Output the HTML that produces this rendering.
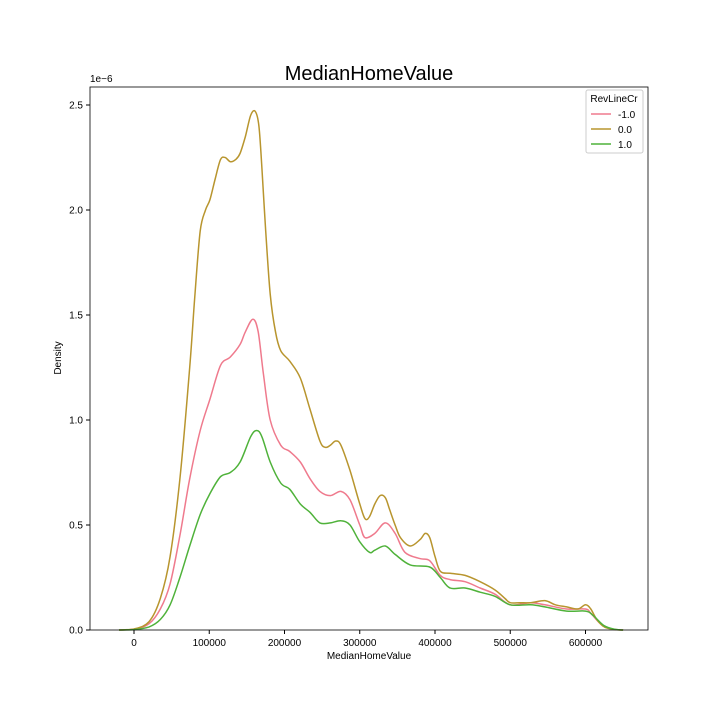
<!DOCTYPE html>
<html><head><meta charset="utf-8"><style>
body{margin:0;background:#fff;}
svg{display:block;font-family:"Liberation Sans","DejaVu Sans",sans-serif;}
</style></head><body>
<svg id="chart" width="720" height="720">
<rect width="720" height="720" fill="#fff"/>
<text x="369" y="80" font-size="20" text-anchor="middle">MedianHomeValue</text>
<text x="90" y="82" font-size="10">1e−6</text>
<text transform="translate(61,358) rotate(-90)" font-size="10" text-anchor="middle">Density</text>
<text x="369" y="659" font-size="10" text-anchor="middle">MedianHomeValue</text>
<g id="series"></g>
<g id="axes"></g>
<rect x="90" y="87" width="558" height="543" fill="none" stroke="#000" stroke-width="0.8"/>
<g>
<rect x="586" y="90" width="57" height="63" rx="2" fill="#fff" stroke="#ccc"/>
<text x="614" y="102" font-size="10" text-anchor="middle">RevLineCr</text>
<line x1="591" y1="114" x2="611" y2="114" stroke="#ef7a8d" stroke-width="1.5"/>
<text x="618" y="118" font-size="10">-1.0</text>
<line x1="591" y1="129" x2="611" y2="129" stroke="#b8952e" stroke-width="1.5"/>
<text x="618" y="133" font-size="10">0.0</text>
<line x1="591" y1="144" x2="611" y2="144" stroke="#4fb23a" stroke-width="1.5"/>
<text x="618" y="148" font-size="10">1.0</text>
</g>
</svg>
<script>
const xTicks=[0,100000,200000,300000,400000,500000,600000];
const yTicks=[0,0.5,1.0,1.5,2.0,2.5];
const yTickLabels=["0.0","0.5","1.0","1.5","2.0","2.5"];
const goldX=[-20,0,20,35,48,61,74,81,88,95,101,108,115,121,128,135,141,148,155,161,166,170,175,181,188,195,207,221,234,247,254,261,268,275,287,300,307,313,320,327,334,340,347,354,367,380,387,393,400,407,420,440,460,480,493,500,513,527,546,560,575,590,600,607,615,625,640,650];
const goldY=[0,0.005,0.04,0.15,0.35,0.72,1.25,1.6,1.9,2.0,2.05,2.15,2.24,2.25,2.23,2.24,2.27,2.35,2.45,2.47,2.4,2.2,1.9,1.6,1.42,1.33,1.28,1.2,1.05,0.9,0.87,0.88,0.9,0.88,0.76,0.6,0.53,0.54,0.6,0.64,0.63,0.57,0.5,0.44,0.4,0.43,0.46,0.44,0.35,0.28,0.27,0.26,0.23,0.19,0.15,0.13,0.13,0.13,0.14,0.12,0.11,0.1,0.12,0.1,0.05,0.015,0.002,0];
const pinkX=[-20,0,20,35,48,61,74,88,101,115,128,141,148,158,165,172,181,195,207,221,234,247,261,275,287,300,307,320,334,347,360,380,393,407,420,440,460,480,500,527,546,575,600,607,620,635,650];
const pinkY=[0,0.003,0.03,0.1,0.22,0.45,0.72,0.95,1.1,1.26,1.3,1.36,1.42,1.48,1.42,1.22,1.0,0.88,0.85,0.8,0.72,0.66,0.64,0.66,0.62,0.5,0.44,0.46,0.51,0.46,0.37,0.34,0.33,0.26,0.24,0.23,0.2,0.17,0.12,0.13,0.12,0.1,0.1,0.08,0.03,0.005,0];
const greenX=[-20,0,20,35,48,61,74,88,101,115,128,141,155,163,170,181,195,207,221,234,247,261,275,287,300,313,320,334,347,367,393,407,420,440,460,480,500,527,546,575,600,610,625,640,650];
const greenY=[0,0.002,0.015,0.05,0.12,0.25,0.4,0.55,0.65,0.73,0.75,0.8,0.92,0.95,0.92,0.8,0.7,0.67,0.6,0.56,0.51,0.51,0.52,0.5,0.42,0.37,0.38,0.4,0.36,0.31,0.3,0.25,0.2,0.2,0.18,0.16,0.12,0.12,0.11,0.09,0.09,0.07,0.02,0.003,0];
const NS="http://www.w3.org/2000/svg";
function xs(v){return 134+v/100000*75.25;}
function ys(d){return 630-d*210;}
const axes=document.getElementById('axes');
xTicks.forEach(t=>{
  const l=document.createElementNS(NS,'line');
  l.setAttribute('x1',xs(t));l.setAttribute('x2',xs(t));l.setAttribute('y1',630);l.setAttribute('y2',634);l.setAttribute('stroke','#000');
  
  
  axes.appendChild(l);
  const tx=document.createElementNS(NS,'text');
  tx.setAttribute('x',xs(t));tx.setAttribute('y',646);tx.setAttribute('font-size','10');tx.setAttribute('text-anchor','middle');
  tx.textContent=String(t);
  
  
  axes.appendChild(tx);
});
yTicks.forEach((t,i)=>{
  const l=document.createElementNS(NS,'line');
  l.setAttribute('x1',86);l.setAttribute('x2',90);l.setAttribute('y1',ys(t));l.setAttribute('y2',ys(t));l.setAttribute('stroke','#000');
  
  
  axes.appendChild(l);
  const tx=document.createElementNS(NS,'text');
  tx.setAttribute('x',83);tx.setAttribute('y',ys(t)+3.5);tx.setAttribute('font-size','10');tx.setAttribute('text-anchor','end');
  tx.textContent=yTickLabels[i];
  
  
  axes.appendChild(tx);
});
function pathFor(X,Y){
  const p=X.map((x,i)=>[xs(x*1000),ys(Y[i])]);
  let d='M'+p[0][0].toFixed(1)+','+p[0][1].toFixed(1);
  for(let i=0;i<p.length-1;i++){
    const p0=p[Math.max(0,i-1)],p1=p[i],p2=p[i+1],p3=p[Math.min(p.length-1,i+2)];
    let c1y=p1[1]+(p2[1]-p0[1])/6, c2y=p2[1]-(p3[1]-p1[1])/6;
    c1y=Math.min(c1y,630);c2y=Math.min(c2y,630);
    d+=' C'+(p1[0]+(p2[0]-p0[0])/6).toFixed(1)+','+c1y.toFixed(1)+' '+(p2[0]-(p3[0]-p1[0])/6).toFixed(1)+','+c2y.toFixed(1)+' '+p2[0].toFixed(1)+','+p2[1].toFixed(1);
  }
  return d;
}
const g=document.getElementById('series');
[[pinkX,pinkY,'#ef7a8d','kde-line-neg1'],[goldX,goldY,'#b8952e','kde-line-0'],[greenX,greenY,'#4fb23a','kde-line-1']].forEach(s=>{
  const el=document.createElementNS(NS,'path');
  el.setAttribute('d',pathFor(s[0],s[1]));el.setAttribute('fill','none');el.setAttribute('stroke',s[2]);el.setAttribute('stroke-width','1.5');
  
  
  g.appendChild(el);
});
</script>
</body></html>
